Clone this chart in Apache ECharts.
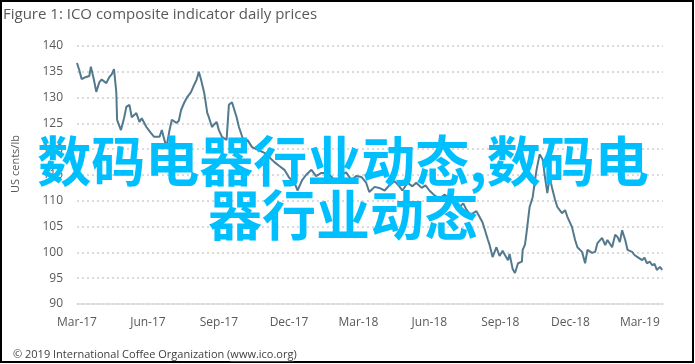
<!DOCTYPE html>
<html>
<head>
<meta charset="utf-8">
<script src="https://cdn.jsdelivr.net/npm/echarts@6/dist/echarts.min.js"></script>
<style>
html,body{margin:0;padding:0;background:#fff;}
#chart{width:695px;height:364px;}
</style>
</head>
<body>
<div id="chart"></div>
<script>
// ---- data ----
const titleText = 'Figure 1: ICO composite indicator daily prices';
const yAxisName = 'US cents/lb';
const footerText = '\u00A9 2019 International Coffee Organization (';
const footerLink = 'www.ico.org';
const overlayText = '数码电器行业动态,数码电器行业动态';

const startDateUTC = [2017, 2, 1];
const dayOffsets = [0,3,6,12,16,18,22,25,29,32,38,42,45,48,51,52,57,61,64,68,71,77,81,84,90,96,100,107,110,113,116,120,123,129,132,135,139,143,148,152,155,158,161,165,169,171,175,181,184,188,194,197,201,207,210,217,221,227,236,243,249,256,262,269,275,282,286,292,297,304,310,317,325,331,336,343,349,356,362,369,375,379,386,392,399,405,412,418,422,429,435,440,447,452,457,464,470,477,483,490,496,501,505,509,513,518,522,526,533,535,539,544,548,552,555,559,561,565,568,572,577,578,581,583,587,591,594,596,600,604,607,610,613,616,620,623,629,633,636,642,646,649,655,659,662,668,672,675,681,685,688,694,698,701,704,707,711,714,720,723,727,733,736,739,743,746,749,752,756,759];
const prices = [136.7,135.3,133.6,134.0,134.2,136.0,133.4,131.1,133.0,133.5,132.8,134.0,134.5,135.5,131.0,125.7,123.7,126.0,128.2,128.6,126.2,127.0,125.3,126.0,124.3,123.1,122.4,122.4,123.7,122.0,120.4,123.7,125.7,125.1,125.5,127.6,129.0,130.1,131.1,132.5,133.4,135.0,133.4,130.9,127.0,126.2,124.3,125.3,123.7,122.4,121.8,128.6,129.1,126.2,124.3,121.2,121.8,120.4,119.8,119.3,118.5,117.5,116.8,116.0,114.5,113.5,112.0,114.0,115.0,116.0,114.8,115.4,115.4,114.5,113.5,115.0,115.5,114.0,114.8,114.6,113.5,111.7,112.7,112.5,112.0,113.0,113.8,112.8,112.0,113.5,112.8,113.5,112.5,113.0,112.0,111.0,110.5,111.2,110.3,109.5,108.8,109.5,108.3,107.5,107.5,108.0,106.9,105.8,102.4,101.5,99.1,101.0,99.3,100.3,99.5,98.5,99.7,96.8,96.0,97.9,98.2,100.5,101.5,103.8,108.8,110.7,114.0,116.0,119.0,118.0,114.5,111.5,114.6,112.6,110.2,108.8,107.6,108.2,106.9,104.9,102.4,101.0,100.1,97.9,100.5,99.9,100.1,101.8,102.8,101.4,102.4,101.0,103.4,103.0,102.0,104.3,102.4,100.5,100.1,99.5,99.1,98.5,99.0,97.9,98.2,97.5,97.8,96.6,97.2,96.6];
const tickDays = [0,92,184,275,365,457,549,640,730];
const tickLabels = ['Mar-17','Jun-17','Sep-17','Dec-17','Mar-18','Jun-18','Sep-18','Dec-18','Mar-19'];
const axisEndDay = 760;
const yMin = 90, yMax = 140, yStep = 5;

// ---- build ----
const DAY = 86400000;
const start = Date.UTC(startDateUTC[0], startDateUTC[1], startDateUTC[2]);
const seriesData = dayOffsets.map((d, i) => [start + d * DAY, prices[i]]);
const tickValues = tickDays.map(d => start + d * DAY);

const footerFont = '11px "Open Sans", sans-serif';
const mctx = document.createElement('canvas').getContext('2d');
mctx.font = footerFont;
const footerX = 13, footerY = 355;
const linkX0 = footerX + mctx.measureText(footerText).width;
const linkX1 = linkX0 + mctx.measureText(footerLink).width;

const chart = echarts.init(document.getElementById('chart'), null, {renderer: 'canvas'});
const labelFont = '"Open Sans", sans-serif';
chart.setOption({
  animation: false,
  backgroundColor: '#ffffff',
  grid: {left: 77, right: 32, top: 46, bottom: 60, containLabel: false},
  xAxis: {
    type: 'value',
    min: start,
    max: start + axisEndDay * DAY,
    axisLine: {show: true, lineStyle: {color: '#d9d9d9', width: 1.5}},
    axisTick: {show: false},
    splitLine: {show: false},
    axisLabel: {
      customValues: tickValues,
      formatter: function (v) {
        const i = tickValues.indexOf(v);
        return i >= 0 ? tickLabels[i] : '';
      },
      color: '#595959',
      fontFamily: labelFont,
      fontSize: 12,
      margin: 13
    }
  },
  yAxis: {
    type: 'value',
    min: yMin, max: yMax, interval: yStep,
    axisLine: {show: false},
    axisTick: {show: false},
    splitLine: {show: true, lineStyle: {color: '#cfcfcf', type: [2, 3], width: 1.5}},
    axisLabel: {color: '#595959', fontFamily: labelFont, fontSize: 12, margin: 14}
  },
  series: [{
    type: 'line',
    data: seriesData,
    showSymbol: false,
    symbol: 'none',
    lineStyle: {color: '#52798d', width: 2},
    z: 2
  }],
  graphic: [
    {type: 'rect', z: 100, silent: true,
     shape: {x: 1, y: 1, width: 692, height: 361},
     style: {fill: 'none', stroke: '#000', lineWidth: 2}},
    {type: 'text', x: 3, y: 15, z: 100,
     style: {text: titleText, fill: '#595959', font: '15px "Open Sans", sans-serif',
             verticalAlign: 'middle'}},
    {type: 'text', x: 16, y: 164, rotation: Math.PI / 2, z: 100,
     style: {text: yAxisName, fill: '#595959', font: '11px "Open Sans", sans-serif',
             align: 'center', verticalAlign: 'middle'}},
    {type: 'text', x: footerX, y: footerY, z: 100,
     style: {text: footerText + footerLink + ')', fill: '#404040',
             font: footerFont, verticalAlign: 'middle'}},
    {type: 'line', z: 100, silent: true,
     shape: {x1: linkX0, y1: footerY + 6.5, x2: linkX1, y2: footerY + 6.5},
     style: {stroke: '#404040', lineWidth: 1}},
    {type: 'text', x: 343, y: 188, z: 200,
     style: {text: overlayText, fill: '#00bfff',
             font: 'bold 54px "Noto Sans CJK SC", sans-serif',
             width: 612, overflow: 'break', lineHeight: 54,
             align: 'center', verticalAlign: 'middle'}}
  ]
});
</script>
</body>
</html>
